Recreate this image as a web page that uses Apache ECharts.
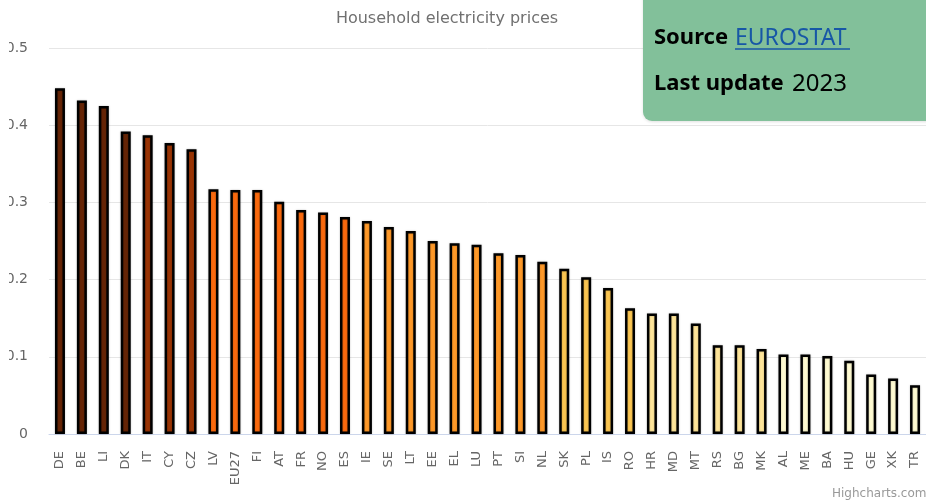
<!DOCTYPE html>
<html>
<head>
<meta charset="utf-8">
<script src="https://cdn.jsdelivr.net/npm/echarts@6/dist/echarts.min.js"></script>
<style>
html,body{margin:0;padding:0;background:#fff;}
#chart{width:926px;height:501px;}
</style>
</head>
<body>
<div id="chart"></div>
<script>
var categories = ['DE','BE','LI','DK','IT','CY','CZ','LV','EU27','FI','AT','FR','NO','ES','IE','SE','LT','EE','EL','LU','PT','SI','NL','SK','PL','IS','RO','HR','MD','MT','RS','BG','MK','AL','ME','BA','HU','GE','XK','TR'];
var prices = [0.448,0.432,0.425,0.392,0.387,0.377,0.369,0.317,0.316,0.316,0.301,0.290,0.287,0.281,0.276,0.268,0.263,0.250,0.247,0.245,0.234,0.232,0.223,0.214,0.203,0.189,0.163,0.156,0.156,0.143,0.115,0.115,0.110,0.103,0.103,0.101,0.095,0.077,0.072,0.063];
var yTicks = [0, 0.1, 0.2, 0.3, 0.4, 0.5];

var titleText = 'Household electricity prices';
var sourceLabel = 'Source';
var sourceName = 'EUROSTAT';
var updateLabel = 'Last update';
var lastUpdate = '2023';

// style palette (colour class per bar)
var palette = ['#662506','#993404','#fb6a0e','#fe9929','#fbc652','#fee59a','#fffbd2'];
var classOf = [0,0,0,0,1,1,1,2,2,2,2,2,2,2,3,3,3,3,3,3,3,3,3,4,4,4,4,5,5,5,5,5,5,6,6,6,6,6,6,6];

var chart = echarts.init(document.getElementById('chart'), null, {renderer:'canvas'});
var font = 'DejaVu Sans';
chart.setOption({
  animation: false,
  title: {
    text: titleText,
    left: 442, top: 6, textAlign: 'center',
    textStyle: {fontFamily: font, fontSize: 16, fontWeight: 'normal', color: '#707070'}
  },
  grid: {left: 49, top: 48, width: 879, height: 386, containLabel: false},
  xAxis: {
    type: 'category',
    data: categories,
    axisLine: {lineStyle: {color: '#ccd6eb', width: 1}},
    axisTick: {show: false},
    axisLabel: {rotate: 90, interval: 0, margin: 17, color: '#666666', fontFamily: font, fontSize: 13}
  },
  yAxis: {
    type: 'value',
    min: yTicks[0], max: yTicks[yTicks.length-1], interval: 0.1,
    axisLine: {show: false},
    axisTick: {show: false},
    splitLine: {lineStyle: {color: '#e6e6e6', width: 1}},
    axisLabel: {margin: 21, color: '#666666', fontFamily: font, fontSize: 14,
      formatter: function(v){ return yTicks.indexOf(+v.toFixed(1)) >= 0 ? String(+v.toFixed(1)) : ''; }}
  },
  series: [{
    type: 'bar',
    data: prices.map(function(v, i){
      return {value: v, itemStyle: {color: palette[classOf[i]]}};
    }),
    barWidth: 10,
    itemStyle: {borderColor: '#000000', borderWidth: 2.5, shadowColor: 'rgba(0,0,0,0.25)', shadowBlur: 2}
  }],
  graphic: [
    {type: 'rect', left: 0, top: 0, z: 100, shape: {width: 9, height: 501}, style: {fill: '#ffffff'}},
    {type: 'rect', z: 100, shape: {x: 643, y: -10, width: 300, height: 131, r: [0,0,0,9]},
      style: {fill: '#82c09a', shadowColor: 'rgba(0,0,0,0.12)', shadowBlur: 3, shadowOffsetY: 1}},
    {type: 'text', z: 101, x: 654, y: 38, style: {text: sourceLabel, fontFamily: 'Noto Sans', fontSize: 22, fontWeight: 'bold', fill: '#000000', verticalAlign: 'middle'}},
    {type: 'text', z: 101, x: 735, y: 38, style: {text: sourceName, fontFamily: 'Noto Sans', fontSize: 23, fill: '#1757a6', verticalAlign: 'middle'}},
    {type: 'line', z: 101, shape: {x1: 735, y1: 49, x2: 850, y2: 49}, style: {stroke: '#1757a6', lineWidth: 1.5}},
    {type: 'text', z: 101, x: 654, y: 84, style: {text: updateLabel, fontFamily: 'Noto Sans', fontSize: 22, fontWeight: 'bold', fill: '#000000', verticalAlign: 'middle'}},
    {type: 'text', z: 101, x: 792, y: 84, style: {text: lastUpdate, fontFamily: 'Noto Sans', fontSize: 24, fill: '#000000', verticalAlign: 'middle'}},
    {type: 'text', z: 101, x: 832, y: 488, style: {text: 'Highcharts.com', fontFamily: font, fontSize: 12, fill: '#999999'}}
  ]
});
</script>
</body>
</html>
